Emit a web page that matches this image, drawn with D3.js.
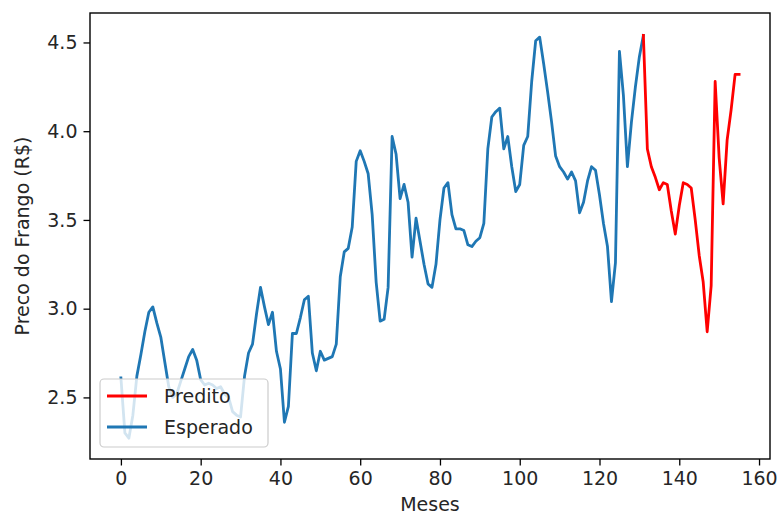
<!DOCTYPE html>
<html>
<head>
<meta charset="utf-8">
<script src="https://cdn.jsdelivr.net/npm/d3@7"></script>
<style>
  html, body { margin: 0; padding: 0; background: #fff; }
  svg { display: block; font-family: "DejaVu Sans", sans-serif; }
</style>
</head>
<body>
<svg id="chart" width="781" height="517"></svg>
<script>
// Monthly chicken price, observed (months 0–131)
const esperado = [
  2.61, 2.30, 2.27, 2.40, 2.62, 2.74, 2.87, 2.98, 3.01, 2.92,
  2.84, 2.70, 2.56, 2.50, 2.52, 2.59, 2.66, 2.73, 2.77, 2.71,
  2.60, 2.57, 2.58, 2.57, 2.55, 2.56, 2.52, 2.50, 2.42, 2.40,
  2.39, 2.62, 2.75, 2.80, 2.97, 3.12, 3.01, 2.91, 2.98, 2.76,
  2.66, 2.36, 2.45, 2.86, 2.86, 2.95, 3.05, 3.07, 2.75, 2.65,
  2.76, 2.71, 2.72, 2.73, 2.80, 3.18, 3.32, 3.34, 3.46, 3.83,
  3.89, 3.83, 3.76, 3.53, 3.15, 2.93, 2.94, 3.12, 3.97, 3.87,
  3.62, 3.70, 3.60, 3.29, 3.51, 3.38, 3.25, 3.14, 3.12, 3.25,
  3.50, 3.68, 3.71, 3.53, 3.45, 3.45, 3.44, 3.36, 3.35, 3.38,
  3.40, 3.48, 3.90, 4.08, 4.11, 4.13, 3.90, 3.97, 3.80, 3.66,
  3.70, 3.92, 3.97, 4.28, 4.51, 4.53, 4.38, 4.22, 4.05, 3.86,
  3.80, 3.77, 3.73, 3.77, 3.72, 3.54, 3.60, 3.72, 3.80, 3.78,
  3.64, 3.48, 3.35, 3.04, 3.26, 4.45, 4.20, 3.80, 4.05, 4.25,
  4.42, 4.54
];
const esperadoStart = 0;

// Model forecast (months 131–155)
const predito = [
  4.54, 3.90, 3.80, 3.74, 3.67, 3.71, 3.70, 3.55, 3.42, 3.58,
  3.71, 3.70, 3.68, 3.50, 3.30, 3.15, 2.87, 3.13, 4.28, 3.85,
  3.59, 3.95, 4.12, 4.32, 4.32
];
const preditoStart = 131;

const xTicks = [0, 20, 40, 60, 80, 100, 120, 140, 160];
const yTicks = [2.5, 3.0, 3.5, 4.0, 4.5];

const seriesNames = ["Predito", "Esperado"];
const seriesColors = ["#ff0000", "#1f77b4"];

const svg = d3.select("#chart");
const plot = { left: 90, right: 770, top: 13, bottom: 459 };
const FONT = 19;

const x = d3.scaleLinear().domain([-7.75, 162.75]).range([plot.left, plot.right]);
const y = d3.scaleLinear().domain([2.153, 4.666]).range([plot.bottom, plot.top]);

const toPoints = (vals, start) => vals.map((v, i) => [start + i, v]);
const line = d3.line().x(d => x(d[0])).y(d => y(d[1]));

svg.append("defs").append("clipPath").attr("id", "plotclip")
  .append("rect")
  .attr("x", plot.left).attr("y", plot.top)
  .attr("width", plot.right - plot.left).attr("height", plot.bottom - plot.top);

const lines = svg.append("g").attr("clip-path", "url(#plotclip)");

lines.append("path")
  .datum(toPoints(esperado, esperadoStart))
  .attr("d", line)
  .attr("fill", "none")
  .attr("stroke", seriesColors[1])
  .attr("stroke-width", 2.8)
  .attr("stroke-linejoin", "round")
  .attr("stroke-linecap", "square");

lines.append("path")
  .datum(toPoints(predito, preditoStart))
  .attr("d", line)
  .attr("fill", "none")
  .attr("stroke", seriesColors[0])
  .attr("stroke-width", 2.8)
  .attr("stroke-linejoin", "round")
  .attr("stroke-linecap", "square");

// Axes
const xAxis = d3.axisBottom(x).tickValues(xTicks).tickSize(6.5).tickPadding(6).tickFormat(d3.format("d"));
const yAxis = d3.axisLeft(y).tickValues(yTicks).tickSize(6.5).tickPadding(6).tickFormat(d3.format(".1f"));

const gx = svg.append("g").attr("transform", `translate(0,${plot.bottom})`).call(xAxis);
const gy = svg.append("g").attr("transform", `translate(${plot.left},0)`).call(yAxis);

[gx, gy].forEach(g => {
  g.select(".domain").remove();
  g.selectAll(".tick line").attr("stroke", "#000").attr("stroke-width", 1.3);
  g.selectAll(".tick text")
    .attr("fill", "#262626")
    .style("font-size", FONT + "px")
    .style("font-family", "DejaVu Sans, sans-serif");
});

// Frame
svg.append("rect")
  .attr("x", plot.left).attr("y", plot.top)
  .attr("width", plot.right - plot.left).attr("height", plot.bottom - plot.top)
  .attr("fill", "none").attr("stroke", "#000").attr("stroke-width", 1.4);

// Axis titles
svg.append("text")
  .attr("x", (plot.left + plot.right) / 2).attr("y", 511)
  .attr("text-anchor", "middle")
  .attr("fill", "#262626")
  .style("font-size", FONT + "px")
  .text("Meses");

svg.append("text")
  .attr("transform", `translate(29,${(plot.top + plot.bottom) / 2}) rotate(-90)`)
  .attr("text-anchor", "middle")
  .attr("fill", "#262626")
  .style("font-size", FONT + "px")
  .text("Preco do Frango (R$)");

// Legend
const legend = svg.append("g");
legend.append("rect")
  .attr("x", 100).attr("y", 379)
  .attr("width", 168).attr("height", 68)
  .attr("rx", 4).attr("ry", 4)
  .attr("fill", "#fff").attr("fill-opacity", 0.8)
  .attr("stroke", "#cccccc").attr("stroke-width", 1.2);

const rowY = [396, 427];
seriesNames.forEach((name, i) => {
  legend.append("line")
    .attr("x1", 107).attr("x2", 147)
    .attr("y1", rowY[i]).attr("y2", rowY[i])
    .attr("stroke", seriesColors[i]).attr("stroke-width", 2.8);
  legend.append("text")
    .attr("x", 164).attr("y", rowY[i])
    .attr("dy", "0.36em")
    .attr("fill", "#262626")
    .style("font-size", FONT + "px")
    .text(name);
});
</script>
</body>
</html>
